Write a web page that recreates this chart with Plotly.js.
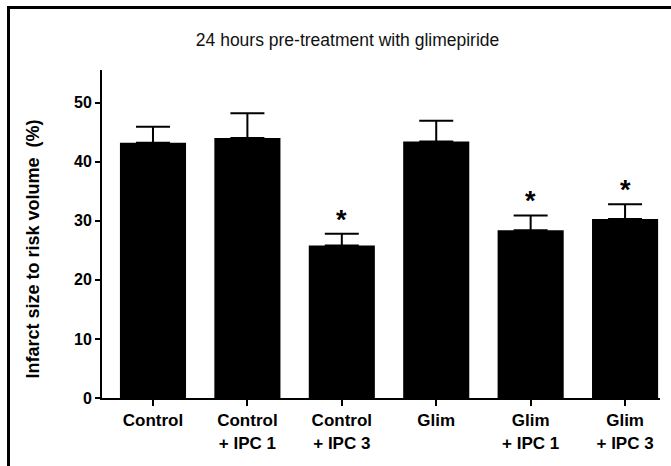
<!DOCTYPE html>
<html>
<head>
<meta charset="utf-8">
<script src="https://cdn.plot.ly/plotly-3.0.1.min.js"></script>
<style>
  html, body { margin: 0; padding: 0; background: #fff; }
  #wrap { position: relative; width: 671px; height: 466px; }
  #chart { width: 671px; height: 466px; }
  #frame { position: absolute; left: 7px; top: 6px; right: -5px; bottom: -5px;
           border-left: 3px solid #000; border-top: 3px solid #000; pointer-events: none; }
</style>
</head>
<body>
<div id="wrap">
  <div id="chart"></div>
  <div id="frame"></div>
</div>
<script>
// Data
const categories = ["Control", "Control<br>+ IPC 1", "Control<br>+ IPC 3", "Glim", "Glim<br>+ IPC 1", "Glim<br>+ IPC 3"];
const meanValues = [43.2, 44.0, 25.8, 43.4, 28.4, 30.3];
const semValues  = [2.7, 4.2, 2.0, 3.5, 2.5, 2.5];
const significant = [false, false, true, false, true, true];
const yTickValues = [0, 10, 20, 30, 40, 50];
const yTitle = 'Infarct size to risk volume  (%)';

const xIdx = categories.map((_, i) => i);

const trace = {
  type: 'bar',
  x: xIdx,
  y: meanValues,
  marker: { color: '#000', line: { width: 0 } },
  error_y: {
    type: 'data',
    symmetric: false,
    array: semValues,
    arrayminus: semValues.map(() => 0),
    color: '#000',
    thickness: 2,
    width: 17
  },
  hoverinfo: 'skip'
};

const annotations = [];
significant.forEach((s, i) => {
  if (s) {
    annotations.push({
      x: i, y: meanValues[i] + semValues[i],
      xref: 'x', yref: 'y',
      text: '*', showarrow: false,
      yanchor: 'bottom', yshift: -3,
      font: { family: 'Liberation Sans, Arial, sans-serif', size: 27, color: '#000', weight: 'bold' }
    });
  }
});
// y-axis title placed as a rotated annotation (sits slightly below the plot centre in the reference)
annotations.push({
  x: -0.124, y: 0.455, xref: 'paper', yref: 'paper',
  xanchor: 'center', yanchor: 'middle',
  text: yTitle, textangle: -90, showarrow: false,
  font: { family: 'Liberation Sans, Arial, sans-serif', size: 18, color: '#000', weight: 'bold' }
});

const layout = {
  width: 671, height: 466,
  margin: { l: 102, r: 11, t: 70, b: 68 },
  paper_bgcolor: '#fff', plot_bgcolor: '#fff',
  showlegend: false,
  bargap: 0.3,
  font: { family: 'Liberation Sans, Arial, sans-serif', color: '#000' },
  title: {
    text: '24 hours pre-treatment with glimepiride',
    font: { family: 'Liberation Sans, Arial, sans-serif', size: 17.5, color: '#111' },
    x: 0.518, xanchor: 'center', y: 0.915, yanchor: 'middle'
  },
  xaxis: {
    range: [-0.54, 5.37],
    tickmode: 'array', tickvals: xIdx, ticktext: categories,
    showline: true, linecolor: '#000', linewidth: 2,
    ticks: 'outside', ticklen: 6, tickwidth: 2, tickcolor: '#000',
    showgrid: false, zeroline: false,
    tickfont: { size: 17, color: '#000', weight: 'bold' }
  },
  yaxis: {
    range: [0, 55.5],
    tickmode: 'array', tickvals: yTickValues,
    showline: true, linecolor: '#000', linewidth: 2,
    ticks: 'outside', ticklen: 5, tickwidth: 2, tickcolor: '#000',
    showgrid: false, zeroline: false,
    tickfont: { size: 16, color: '#000', weight: 'bold' }
  },
  annotations: annotations
};

Plotly.newPlot('chart', [trace], layout, { staticPlot: true, displayModeBar: false });
</script>
</body>
</html>
